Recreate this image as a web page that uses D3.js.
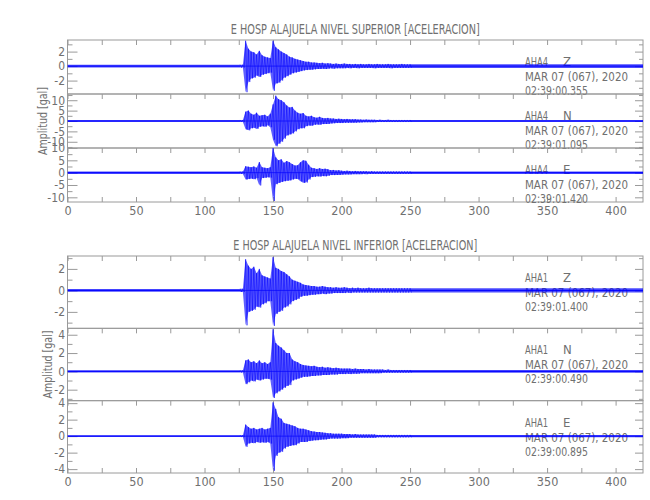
<!DOCTYPE html>
<html><head><meta charset="utf-8">
<script src="https://cdn.jsdelivr.net/npm/d3@7/dist/d3.min.js"></script>
<style>
body{margin:0;background:#fff}
text{font-family:"Liberation Sans Narrow","DejaVu Sans Condensed","Liberation Sans",sans-serif;fill:#707070}
</style>
</head><body><svg id="c" width="650" height="500"></svg>
<script>
// ---------- data ----------
const titles = ["E HOSP ALAJUELA NIVEL SUPERIOR [ACELERACION]", "E HOSP ALAJUELA NIVEL INFERIOR [ACELERACION]"];
const stations = ["AHA4", "AHA1"];
const components = ["Z", "N", "E"];
const dateLabel = "MAR 07 (067), 2020";
const startTimesSup = ["02:39:00.355", "02:39:01.095", "02:39:01.420"];
const startTimesInf = ["02:39:01.400", "02:39:00.490", "02:39:00.895"];
const yTitle = "Amplitud [gal]";
const xDomain = [0, 420];
const xTickValues = [0, 25, 50, 75, 100, 125, 150, 175, 200, 225, 250, 275, 300, 325, 350, 375, 400];
const xLabelValues = [0, 50, 100, 150, 200, 250, 300, 350, 400];

// y ranges and tick labels of each trace
const supZDomain = [-3.85, 3.6],  supZTicks = [-2, 0, 2],          supZMinor = [-3, -1, 1, 3];
const supNDomain = [-13, 13],     supNTicks = [-10, -5, 0, 5, 10], supNMinor = [-12.5, -7.5, -2.5, 2.5, 7.5, 12.5];
const supEDomain = [-11.9, 10],   supETicks = [-10, -5, 0, 5, 10], supEMinor = [-7.5, -2.5, 2.5, 7.5];
const infZDomain = [-3.53, 3.2],  infZTicks = [-2, 0, 2],          infZMinor = [-3, -1, 1, 3];
const infNDomain = [-3.2, 4.7],   infNTicks = [-2, 0, 2, 4],       infNMinor = [-3, -1, 1, 3];
const infEDomain = [-4.47, 4.3],  infETicks = [-4, -2, 0, 2, 4],   infEMinor = [-3, -1, 1, 3];

// envelope (positive peak / negative peak) per 2-s bin, starting at 126 s
const binStart = 126, binStep = 2;
const supZUp = [0.2,0.2,3.5,2.4,2.0,1.9,1.6,2.1,1.5,1.3,1.2,1.1, 3.5,2.6,2.3,2.0,1.8,1.6,1.3,1.2,1.0,0.9,0.8,0.7, 0.6,0.6,0.5,0.5,0.45,0.4,0.45,0.35,0.4,0.35,0.3,0.35, 0.3,0.3,0.35,0.3,0.3,0.25,0.3,0.25,0.3,0.25,0.25,0.3, 0.25,0.25,0.3,0.25,0.25,0.25,0.3,0.25,0.25,0.25,0.25,0.3, 0.25,0.25,0.25];
const supZDn = [-0.2,-0.2,-3.6,-2.2,-1.7,-1.6,-1.3,-1.5,-1.2,-1.1,-1.0,-0.9, -3.4,-2.4,-2.3,-2.0,-1.6,-1.4,-1.2,-1.0,-0.9,-0.8,-0.7,-0.6, -0.55,-0.5,-0.5,-0.45,-0.4,-0.4,-0.35,-0.4,-0.35,-0.3,-0.35,-0.3, -0.3,-0.3,-0.3,-0.25,-0.3,-0.25,-0.25,-0.3,-0.25,-0.25,-0.25,-0.25, -0.25,-0.3,-0.25,-0.25,-0.25,-0.25,-0.25,-0.3,-0.25,-0.25,-0.25,-0.25, -0.25,-0.25,-0.25];
const supNUp = [0.5,0.5,4.5,5.0,3.5,3.0,4.0,2.5,2.8,3.0,2.2,3.5, 8.0,12.2,10.5,10.0,9.0,7.5,6.5,6.8,5.0,4.0,3.5,3.8, 2.5,2.2,2.5,1.8,1.6,2.0,1.5,1.3,1.5,1.2,1.2,1.0, 1.1,1.0,0.9,1.0,0.8,0.8,0.9,0.7,0.7,0.6,0.7,0.6, 0.6,0.6,0.5,0.6,0.5,0.5,0.6,0.5,0.5,0.5,0.5,0.5, 0.5,0.5,0.5];
const supNDn = [-0.5,-0.5,-4.0,-4.5,-3.5,-3.2,-3.8,-2.8,-2.5,-2.8,-2.0,-3.0, -9.0,-12.2,-11.0,-10.0,-8.5,-7.0,-6.5,-6.0,-5.0,-4.0,-3.5,-3.5, -2.5,-2.2,-2.3,-1.8,-1.7,-1.8,-1.5,-1.4,-1.4,-1.2,-1.1,-1.0, -1.0,-1.0,-0.9,-0.9,-0.8,-0.8,-0.8,-0.7,-0.7,-0.6,-0.6,-0.6, -0.6,-0.6,-0.5,-0.5,-0.5,-0.5,-0.5,-0.5,-0.5,-0.5,-0.5,-0.5, -0.5,-0.5,-0.5];
const supEUp = [0.5,0.5,2.6,2.4,2.2,2.5,2.0,4.3,2.2,2.0,1.8,2.2, 10.0,6.2,5.0,5.4,4.0,4.7,4.2,3.5,2.9,3.0,4.2,5.0, 4.8,3.2,2.0,1.8,1.5,1.8,1.5,1.6,1.4,1.0,1.1,0.9, 1.0,0.8,0.7,0.8,0.7,0.6,0.7,0.6,0.6,0.6,0.6,0.5, 0.6,0.5,0.5,0.5,0.5,0.5,0.5,0.5,0.5,0.5,0.5,0.5, 0.5,0.5,0.5];
const supEDn = [-0.5,-0.5,-2.8,-2.6,-2.4,-2.7,-2.2,-5.2,-2.2,-2.1,-1.9,-2.0, -11.5,-4.7,-4.2,-3.8,-3.5,-3.3,-3.2,-2.8,-2.5,-2.6,-3.5,-4.1, -4.0,-2.8,-1.8,-1.7,-1.5,-1.6,-1.4,-1.5,-1.3,-1.0,-1.0,-0.9, -0.9,-0.8,-0.7,-0.7,-0.7,-0.6,-0.6,-0.6,-0.6,-0.5,-0.6,-0.5, -0.5,-0.5,-0.5,-0.5,-0.5,-0.5,-0.5,-0.5,-0.5,-0.5,-0.5,-0.5, -0.5,-0.5,-0.5];
const infZUp = [0.15,0.15,2.9,2.3,2.0,2.2,1.6,2.0,1.4,1.3,1.2,1.1, 3.1,2.1,2.0,1.8,1.7,1.5,1.3,1.0,0.9,0.8,0.7,0.55, 0.5,0.45,0.4,0.4,0.35,0.35,0.4,0.35,0.3,0.3,0.25,0.3, 0.25,0.25,0.3,0.25,0.2,0.25,0.2,0.25,0.2,0.2,0.2,0.25, 0.2,0.2,0.2,0.2,0.2,0.2,0.2,0.2,0.2,0.2,0.2,0.2, 0.2,0.2,0.2];
const infZDn = [-0.15,-0.15,-3.25,-2.0,-1.9,-1.8,-1.5,-1.6,-1.3,-1.2,-1.0,-1.0, -3.3,-2.2,-2.0,-1.9,-1.6,-1.5,-1.3,-1.0,-0.9,-0.8,-0.6,-0.5, -0.5,-0.45,-0.4,-0.4,-0.35,-0.35,-0.3,-0.35,-0.3,-0.3,-0.25,-0.25, -0.25,-0.25,-0.25,-0.2,-0.25,-0.2,-0.2,-0.2,-0.2,-0.2,-0.2,-0.2, -0.2,-0.2,-0.2,-0.2,-0.2,-0.2,-0.2,-0.2,-0.2,-0.2,-0.2,-0.2, -0.2,-0.2,-0.2];
const infNUp = [0.12,0.12,1.2,1.3,1.0,1.1,0.9,1.2,0.9,1.0,0.8,1.0, 4.6,3.1,2.8,2.6,2.3,2.0,2.0,1.3,1.1,1.0,0.8,0.7, 0.65,0.6,0.55,0.6,0.5,0.45,0.5,0.4,0.45,0.4,0.35,0.4, 0.35,0.3,0.3,0.3,0.3,0.25,0.3,0.25,0.25,0.25,0.2,0.25, 0.2,0.2,0.2,0.2,0.2,0.15,0.2,0.15,0.15,0.15,0.15,0.15, 0.15,0.15,0.15];
const infNDn = [-0.12,-0.12,-1.4,-1.2,-1.0,-1.1,-0.9,-1.0,-0.9,-0.8,-0.8,-0.9, -2.9,-2.4,-2.2,-2.0,-1.8,-1.6,-1.5,-1.0,-0.9,-0.8,-0.7,-0.6, -0.6,-0.55,-0.5,-0.5,-0.45,-0.45,-0.4,-0.4,-0.4,-0.35,-0.35,-0.35, -0.3,-0.3,-0.3,-0.25,-0.3,-0.25,-0.25,-0.25,-0.2,-0.2,-0.2,-0.2, -0.2,-0.2,-0.2,-0.2,-0.15,-0.15,-0.15,-0.15,-0.15,-0.15,-0.15,-0.15, -0.15,-0.15,-0.15];
const infEUp = [0.12,0.12,1.4,1.1,0.9,1.0,0.8,0.9,1.0,0.8,0.9,1.0, 4.1,3.3,2.3,2.1,1.6,1.5,1.4,1.3,1.2,1.0,0.9,0.9, 0.8,0.7,0.6,0.55,0.5,0.5,0.45,0.4,0.35,0.35,0.3,0.3, 0.3,0.3,0.25,0.25,0.25,0.2,0.25,0.2,0.2,0.2,0.2,0.2, 0.2,0.2,0.15,0.15,0.15,0.15,0.15,0.15,0.15,0.15,0.15,0.15, 0.15,0.15,0.15];
const infEDn = [-0.12,-0.12,-1.3,-0.9,-0.8,-0.85,-0.7,-0.8,-0.75,-0.8,-0.7,-0.9, -4.2,-2.4,-2.0,-1.9,-1.5,-1.3,-1.2,-1.1,-1.1,-0.9,-0.7,-0.7, -0.7,-0.6,-0.55,-0.5,-0.5,-0.45,-0.4,-0.4,-0.35,-0.3,-0.3,-0.3, -0.3,-0.25,-0.25,-0.25,-0.2,-0.2,-0.2,-0.2,-0.2,-0.2,-0.2,-0.2, -0.2,-0.2,-0.15,-0.15,-0.15,-0.15,-0.15,-0.15,-0.15,-0.15,-0.15,-0.15, -0.15,-0.15,-0.15];
// background noise level before and after the active part
const noiseBefore = [0.2, 0.5, 0.5, 0.12, 0.12, 0.12];
const noiseAfter  = [0.25, 0.5, 0.5, 0.2, 0.15, 0.15];

// ---------- tables built from the arrays ----------
const supTraces = [
  {up: supZUp, dn: supZDn, dom: supZDomain, ticks: supZTicks, minor: supZMinor, pre: noiseBefore[0], post: noiseAfter[0], time: startTimesSup[0]},
  {up: supNUp, dn: supNDn, dom: supNDomain, ticks: supNTicks, minor: supNMinor, pre: noiseBefore[1], post: noiseAfter[1], time: startTimesSup[1]},
  {up: supEUp, dn: supEDn, dom: supEDomain, ticks: supETicks, minor: supEMinor, pre: noiseBefore[2], post: noiseAfter[2], time: startTimesSup[2]}
];
const infTraces = [
  {up: infZUp, dn: infZDn, dom: infZDomain, ticks: infZTicks, minor: infZMinor, pre: noiseBefore[3], post: noiseAfter[3], time: startTimesInf[0]},
  {up: infNUp, dn: infNDn, dom: infNDomain, ticks: infNTicks, minor: infNMinor, pre: noiseBefore[4], post: noiseAfter[4], time: startTimesInf[1]},
  {up: infEUp, dn: infEDn, dom: infEDomain, ticks: infETicks, minor: infEMinor, pre: noiseBefore[5], post: noiseAfter[5], time: startTimesInf[2]}
];

// ---------- layout ----------
const layout = [
  {title: titles[0], station: stations[0], traces: supTraces, top: 40, bottom: 202, titleY: 34, yTitleX: 42},
  {title: titles[1], station: stations[1], traces: infTraces, top: 256, bottom: 473, titleY: 250, yTitleX: 47}
];
const left = 67.5, right = 643;
const frameColor = "#9a9a9a";
const blue = "#0000ff";

const svg = d3.select("#c");
const x = d3.scaleLinear().domain(xDomain).range([left, right]);
const fmt = d => String(d);

function styleAxis(g) {
  g.select(".domain").remove();
  g.selectAll(".tick line").attr("stroke", frameColor).attr("stroke-width", 1);
  g.selectAll(".tick text").attr("fill", "#707070").style("font-size", "12px");
}

layout.forEach((grp, gi) => {
  const n = grp.traces.length;
  const h = (grp.bottom - grp.top) / n;

  svg.append("text").attr("x", (left + right) / 2).attr("y", grp.titleY)
    .attr("text-anchor", "middle").style("font-size", "13.5px")
    .attr("textLength", gi === 0 ? 249 : 244).attr("lengthAdjust", "spacingAndGlyphs")
    .text(grp.title);

  svg.append("text")
    .attr("transform", `translate(${grp.yTitleX},${(grp.top + grp.bottom) / 2}) rotate(-90)`)
    .attr("text-anchor", "middle").attr("dy", "0.35em").style("font-size", "13px")
    .attr("textLength", 68).attr("lengthAdjust", "spacingAndGlyphs")
    .text(yTitle);

  grp.traces.forEach((tr, ti) => {
    const top = grp.top + ti * h, bot = top + h;
    const y = d3.scaleLinear().domain(tr.dom).range([bot, top]);
    const clipId = `clip${gi}_${ti}`;
    svg.append("clipPath").attr("id", clipId).append("rect")
      .attr("x", left).attr("y", top).attr("width", right - left).attr("height", h);

    // frame
    svg.append("rect").attr("x", left).attr("y", top).attr("width", right - left).attr("height", h)
      .attr("fill", "none").attr("stroke", frameColor).attr("stroke-width", 1);

    // top ticks (inward)
    svg.append("g").attr("transform", `translate(0,${top})`)
      .call(d3.axisTop(x).tickValues(xTickValues).tickSize(-5).tickFormat(""))
      .call(styleAxis);
    // bottom axis with labels on last trace
    if (ti === n - 1) {
      svg.append("g").attr("transform", `translate(0,${bot})`)
        .call(d3.axisBottom(x).tickValues(xTickValues).tickSize(-5).tickPadding(4)
          .tickFormat(d => xLabelValues.includes(d) ? d : ""))
        .call(styleAxis)
        .call(g => g.selectAll(".tick text").style("font-size", "12.5px"));
    }
    // left ticks + labels
    svg.append("g").attr("transform", `translate(${left},0)`)
      .call(d3.axisLeft(y).tickValues(tr.ticks).tickSize(-10).tickPadding(2.5).tickFormat(fmt))
      .call(styleAxis);
    svg.append("g").attr("transform", `translate(${left},0)`)
      .call(d3.axisLeft(y).tickValues(tr.minor).tickSize(-5).tickFormat(""))
      .call(styleAxis);
    // right ticks
    svg.append("g").attr("transform", `translate(${right},0)`)
      .call(d3.axisRight(y).tickValues(tr.ticks).tickSize(-8).tickFormat(""))
      .call(styleAxis);
    svg.append("g").attr("transform", `translate(${right},0)`)
      .call(d3.axisRight(y).tickValues(tr.minor).tickSize(-4).tickFormat(""))
      .call(styleAxis);

    // labels on the right
    const tx = 525;
    const t1 = svg.append("text").attr("x", tx).attr("y", top + 26).style("font-size", "13px");
    t1.append("tspan").attr("textLength", 23).attr("lengthAdjust", "spacingAndGlyphs").text(grp.station);
    t1.append("tspan").attr("x", 563).text(components[ti]);
    svg.append("text").attr("x", tx).attr("y", top + 41).style("font-size", "13px")
      .attr("textLength", 103).attr("lengthAdjust", "spacingAndGlyphs").text(dateLabel);
    svg.append("text").attr("x", tx).attr("y", top + 55).style("font-size", "13px")
      .attr("textLength", 63).attr("lengthAdjust", "spacingAndGlyphs").text(tr.time);

    // trace
    const g = svg.append("g").attr("clip-path", `url(#${clipId})`);
    const m = Math.min(tr.up.length, tr.dn.length);
    const bins = d3.range(m).map(i => ({t: binStart + i * binStep, up: tr.up[i], dn: tr.dn[i]}));
    const tEnd = binStart + (m - 1) * binStep;

    const band = d3.area().x(d => x(d.t)).y0(d => y(-d.a)).y1(d => y(d.a));
    g.append("path").datum([{t: xDomain[0], a: tr.pre}, {t: binStart, a: tr.pre}])
      .attr("d", band).attr("fill", blue).attr("fill-opacity", 0.7);
    g.append("path").datum([{t: tEnd, a: tr.post}, {t: xDomain[1], a: tr.post}])
      .attr("d", band).attr("fill", blue).attr("fill-opacity", 0.7);
    g.append("line").attr("x1", x(xDomain[0])).attr("x2", x(xDomain[1]))
      .attr("y1", y(0)).attr("y2", y(0)).attr("stroke", blue).attr("stroke-width", 1);

    const env = d3.area().x(d => x(d.t)).y0(d => y(d.dn)).y1(d => y(d.up));
    g.append("path").datum(bins).attr("d", env).attr("fill", "#2a2aff").attr("fill-opacity", 0.75);

    const zig = bins.flatMap(d => [[d.t, d.up], [d.t + binStep / 2, d.dn]]);
    g.append("path").datum(zig)
      .attr("d", d3.line().x(d => x(d[0])).y(d => y(d[1])))
      .attr("fill", "none").attr("stroke", blue).attr("stroke-width", 0.6).attr("stroke-opacity", 0.9);
  });
});
</script>
</body></html>
